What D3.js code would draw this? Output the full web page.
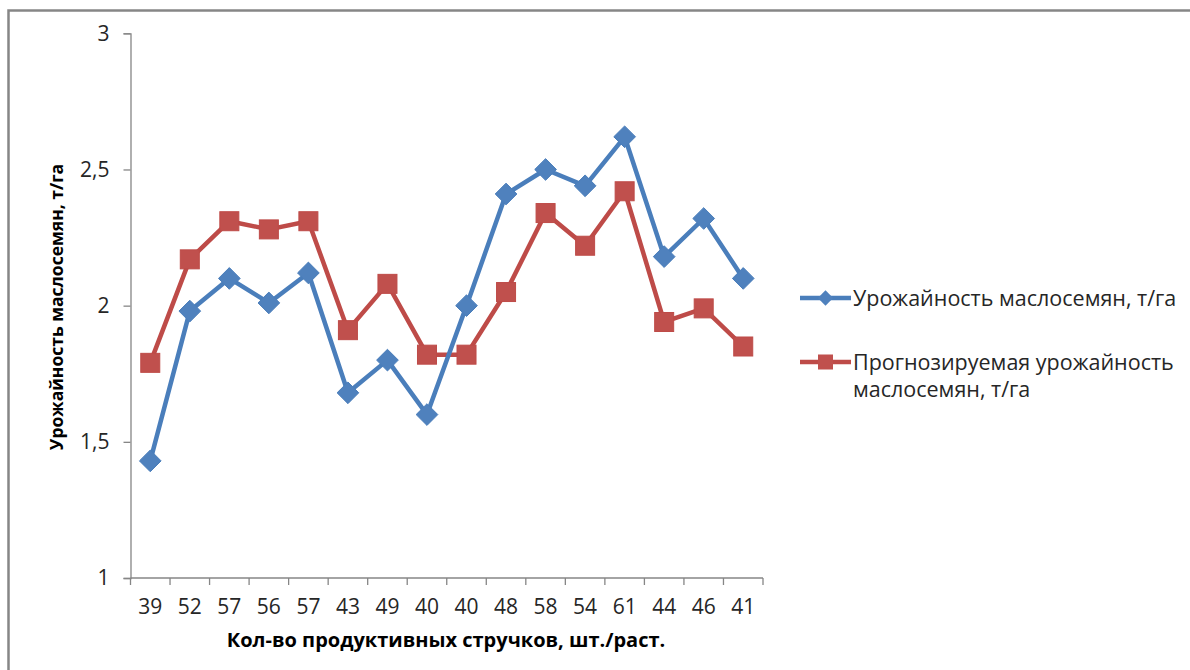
<!DOCTYPE html>
<html>
<head>
<meta charset="utf-8">
<script src="https://cdn.jsdelivr.net/npm/d3@7"></script>
<style>
  html, body { margin: 0; padding: 0; background: #fff; }
  svg { display: block; font-family: "Open Sans", "Noto Sans", sans-serif; }
</style>
</head>
<body>
<svg id="chart" width="1190" height="670"></svg>
<script>
// Number of productive pods per plant (category labels, in plot order)
const categories = ["39", "52", "57", "56", "57", "43", "49", "40", "40", "48", "58", "54", "61", "44", "46", "41"];

// Observed oilseed yield, t/ha
const actualYield = [1.43, 1.98, 2.10, 2.01, 2.12, 1.68, 1.80, 1.60, 2.00, 2.41, 2.50, 2.44, 2.62, 2.18, 2.32, 2.10];

// Forecast oilseed yield, t/ha
const forecastYield = [1.79, 2.17, 2.31, 2.28, 2.31, 1.91, 2.08, 1.82, 1.82, 2.05, 2.34, 2.22, 2.42, 1.94, 1.99, 1.85];

const yTicks = [1, 1.5, 2, 2.5, 3];

const seriesNames = ["Урожайность маслосемян, т/га", "Прогнозируемая урожайность\nмаслосемян, т/га"];
const xTitle = "Кол-во продуктивных стручков, шт./раст.";
const yTitle = "Урожайность маслосемян, т/га";

const svg = d3.select("#chart");

// outer chart frame (right/bottom edges fall outside the canvas)
svg.append("rect")
  .attr("x", 8.5).attr("y", 10.5)
  .attr("width", 1200).attr("height", 700)
  .attr("fill", "#fff")
  .attr("stroke", "#868686").attr("stroke-width", 2.5);

const plot = { left: 130.5, right: 763, top: 33.3, bottom: 578 };

const x = d3.scaleBand()
  .domain(d3.range(categories.length))
  .range([plot.left, plot.right]);

const y = d3.scaleLinear()
  .domain([1, 3])
  .range([plot.bottom, plot.top]);

const axisColor = "#868686";

// Y axis
const yAxis = svg.append("g")
  .attr("transform", `translate(${plot.left},0)`)
  .call(d3.axisLeft(y).tickValues(yTicks).tickSize(7).tickPadding(14)
    .tickFormat(d => String(d).replace(".", ",")));
yAxis.select(".domain").attr("stroke", axisColor).attr("stroke-width", 1.3);
yAxis.selectAll(".tick line").attr("stroke", axisColor).attr("stroke-width", 1.3);
yAxis.selectAll(".tick text")
  .attr("fill", "#262626").attr("font-size", 21)
  .attr("font-family", "Open Sans, sans-serif");

// X axis with tick marks between categories
const xAxisG = svg.append("g").attr("transform", `translate(0,${plot.bottom})`);
xAxisG.append("line")
  .attr("x1", plot.left).attr("x2", plot.right)
  .attr("stroke", axisColor).attr("stroke-width", 1.3);
xAxisG.selectAll("line.tk")
  .data(d3.range(categories.length + 1))
  .join("line").attr("class", "tk")
  .attr("x1", i => i < categories.length ? x(i) : plot.right)
  .attr("x2", i => i < categories.length ? x(i) : plot.right)
  .attr("y1", 0).attr("y2", 7)
  .attr("stroke", axisColor).attr("stroke-width", 1.3);
xAxisG.selectAll("text")
  .data(categories)
  .join("text")
  .attr("x", (d, i) => x(i) + x.bandwidth() / 2)
  .attr("y", 36)
  .attr("text-anchor", "middle")
  .attr("font-size", 21)
  .attr("fill", "#262626")
  .text(d => d);

// Axis titles
svg.append("text")
  .attr("x", 446).attr("y", 647)
  .attr("text-anchor", "middle")
  .attr("font-weight", "bold").attr("font-size", 20)
  .attr("fill", "#000")
  .text(xTitle);

svg.append("text")
  .attr("transform", "translate(63,307) rotate(-90)")
  .attr("text-anchor", "middle")
  .attr("font-weight", "bold").attr("font-size", 17.5)
  .attr("fill", "#000")
  .text(yTitle);

const blue = "#4A7EBB", blueMarker = "#4F81BD";
const red = "#BE4B48", redMarker = "#C0504D";

const cx = i => x(i) + x.bandwidth() / 2;
const line = d3.line().x((d, i) => cx(i)).y(d => y(d));

// Forecast series (drawn first, beneath observed)
svg.append("path")
  .datum(forecastYield)
  .attr("d", line)
  .attr("fill", "none").attr("stroke", red).attr("stroke-width", 4.5)
  .attr("stroke-linejoin", "round");

const sq = 19;
svg.selectAll("rect.fc")
  .data(forecastYield)
  .join("rect").attr("class", "fc")
  .attr("x", (d, i) => cx(i) - sq / 2)
  .attr("y", d => y(d) - sq / 2)
  .attr("width", sq).attr("height", sq)
  .attr("fill", redMarker).attr("stroke", red).attr("stroke-width", 1);

// Observed series
svg.append("path")
  .datum(actualYield)
  .attr("d", line)
  .attr("fill", "none").attr("stroke", blue).attr("stroke-width", 4.5)
  .attr("stroke-linejoin", "round");

const diamond = d3.symbol().type(d3.symbolDiamond2).size(300);
svg.selectAll("path.obs")
  .data(actualYield)
  .join("path").attr("class", "obs")
  .attr("transform", (d, i) => `translate(${cx(i)},${y(d)})`)
  .attr("d", diamond)
  .attr("fill", blueMarker).attr("stroke", blue).attr("stroke-width", 1);

// Legend
const legend = svg.append("g");
const legendRows = [
  { y: 298, color: blue, marker: blueMarker, kind: "diamond", label: seriesNames[0] },
  { y: 362, color: red, marker: redMarker, kind: "square", label: seriesNames[1] }
];
legendRows.forEach(r => {
  legend.append("line")
    .attr("x1", 800).attr("x2", 851)
    .attr("y1", r.y).attr("y2", r.y)
    .attr("stroke", r.color).attr("stroke-width", 4.5);
  if (r.kind === "diamond") {
    legend.append("path")
      .attr("transform", `translate(825.5,${r.y})`)
      .attr("d", d3.symbol().type(d3.symbolDiamond2).size(150))
      .attr("fill", r.marker);
  } else {
    legend.append("rect")
      .attr("x", 825.5 - 7.5).attr("y", r.y - 7.5)
      .attr("width", 15).attr("height", 15)
      .attr("fill", r.marker);
  }
  const t = legend.append("text")
    .attr("x", 853).attr("y", r.y + 7.5)
    .attr("font-size", 21.5).attr("fill", "#262626");
  r.label.split("\n").forEach((ln, k) => {
    t.append("tspan").attr("x", 853).attr("dy", k === 0 ? 0 : 27).text(ln);
  });
});
</script>
</body>
</html>
